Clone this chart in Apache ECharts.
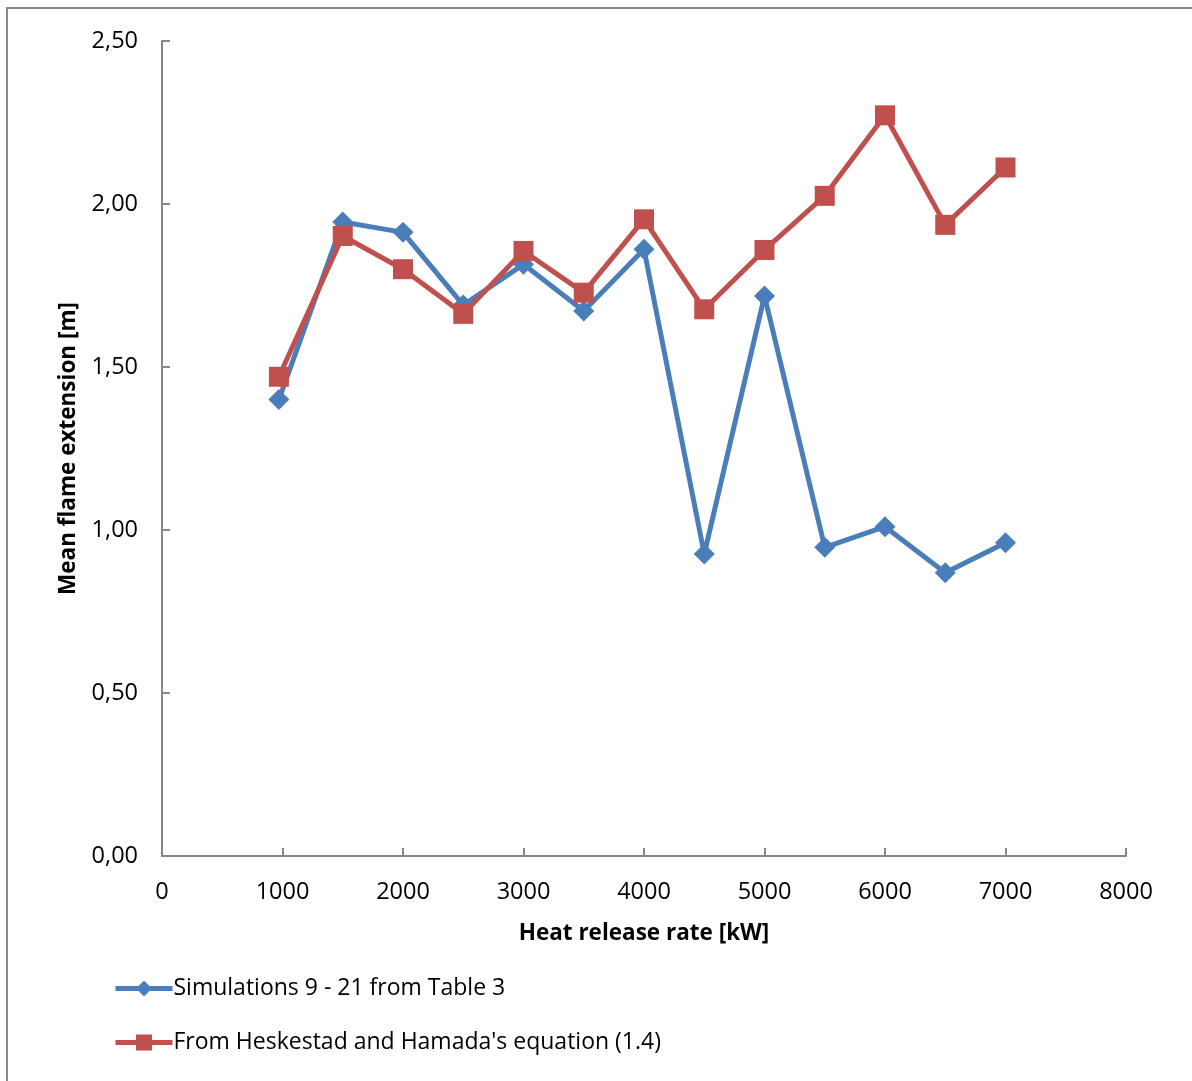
<!DOCTYPE html>
<html>
<head>
<meta charset="utf-8">
<script src="https://cdn.jsdelivr.net/npm/echarts@6/dist/echarts.min.js"></script>
<style>
html,body{margin:0;padding:0;background:#fff;}
#chart{width:1192px;height:1081px;}
</style>
</head>
<body>
<div id="chart"></div>
<script>
var heatRelease = [970, 1500, 2000, 2500, 3000, 3500, 4000, 4500, 5000, 5500, 6000, 6500, 7000];
var simulations = [1.40, 1.945, 1.913, 1.69, 1.815, 1.672, 1.861, 0.926, 1.718, 0.947, 1.010, 0.869, 0.961];
var heskestad = [1.470, 1.902, 1.800, 1.663, 1.856, 1.728, 1.953, 1.677, 1.859, 2.025, 2.272, 1.936, 2.112];
var seriesNames = ["Simulations 9 - 21 from Table 3", "From Heskestad and Hamada's equation (1.4)"];

function pairs(xs, ys){ return xs.map(function(x,i){ return [x, ys[i]]; }); }

var font = "'Open Sans', 'Noto Sans', sans-serif";
var chart = echarts.init(document.getElementById('chart'), null, {renderer:'canvas'});
chart.setOption({
  animation:false,
  backgroundColor:'#fff',
  textStyle:{fontFamily:font},
  graphic:[{type:'rect', shape:{x:7, y:8, width:1200, height:1100}, style:{fill:null, stroke:'#878787', lineWidth:2}, silent:true}],
  grid:{left:162, right:66, top:41, bottom:225, containLabel:false},
  xAxis:{
    type:'value', min:0, max:8000, interval:1000,
    name:'Heat release rate [kW]', nameLocation:'middle', nameGap:66,
    nameTextStyle:{fontFamily:font, fontWeight:'bold', fontSize:22.5, color:'#000'},
    axisLine:{show:true, onZero:false, lineStyle:{color:'#888', width:2}},
    axisTick:{show:true, inside:true, length:8, lineStyle:{color:'#888', width:2}},
    axisLabel:{fontFamily:font, fontSize:23.5, color:'#000', margin:24,
      formatter:function(v){ return String(v); }},
    splitLine:{show:false}
  },
  yAxis:{
    type:'value', min:0, max:2.5, interval:0.5,
    name:'Mean flame extension [m]', nameLocation:'middle', nameGap:82, nameRotate:90,
    nameTextStyle:{fontFamily:font, fontWeight:'bold', fontSize:22.5, color:'#000'},
    axisLine:{show:true, lineStyle:{color:'#888', width:2}},
    axisTick:{show:true, inside:true, length:8, lineStyle:{color:'#888', width:2}},
    axisLabel:{fontFamily:font, fontSize:23.5, color:'#000', margin:24,
      formatter:function(v){ return v.toFixed(2).replace('.', ','); }},
    splitLine:{show:false}
  },
  legend:{
    orient:'vertical', left:108, top:972, itemWidth:57, itemHeight:20, itemGap:31,
    lineStyle:{width:5},
    textStyle:{fontFamily:font, fontSize:23, color:'#000', padding:[0,0,0,-4]},
    data:seriesNames
  },
  series:[
    {name:seriesNames[0], type:'line', data:pairs(heatRelease, simulations),
     symbol:'diamond', symbolSize:21, showAllSymbol:true,
     color:'#4A7EBB', lineStyle:{width:5, color:'#4A7EBB'}, itemStyle:{color:'#4A7EBB'}},
    {name:seriesNames[1], type:'line', data:pairs(heatRelease, heskestad),
     symbol:'rect', symbolSize:20, showAllSymbol:true,
     color:'#C0504D', lineStyle:{width:5, color:'#C0504D'}, itemStyle:{color:'#C0504D'}}
  ]
});
</script>
</body>
</html>
